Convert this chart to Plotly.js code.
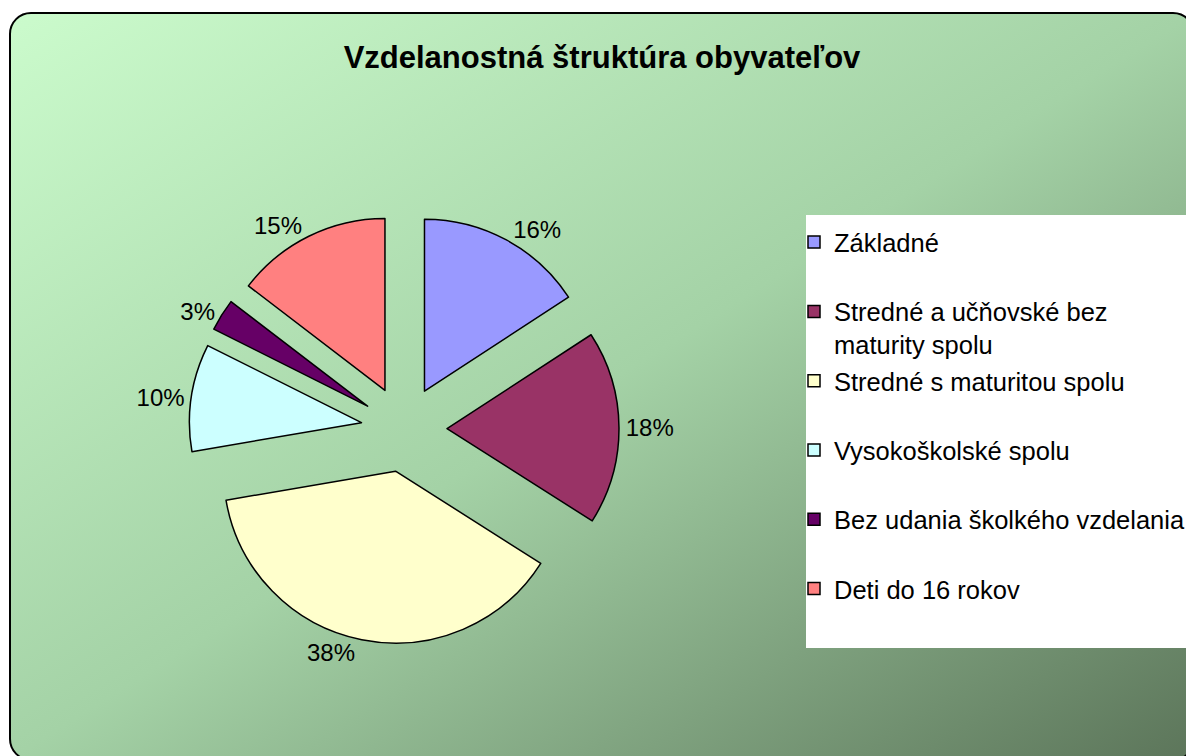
<!DOCTYPE html>
<html>
<head>
<meta charset="utf-8">
<script src="https://cdn.plot.ly/plotly-3.0.1.min.js"></script>
<style>
  html, body { margin: 0; padding: 0; width: 1186px; height: 756px; overflow: hidden; background: #ffffff; }
  #frame {
    position: absolute; left: 9px; top: 12px; width: 1186px; height: 749px;
    border: 2px solid #000; border-radius: 22px; box-sizing: border-box;
    background: linear-gradient(to bottom right, #CBFBCC 0%, #A4D2A6 50%, #5C755A 100%);
  }
  #chart { position: absolute; left: 0; top: 0; width: 1186px; height: 756px; }
</style>
</head>
<body>
<div id="frame"></div>
<div id="chart"></div>
<script>
const titleText = "Vzdelanostná štruktúra obyvateľov";
const categories = [
  "Základné",
  "Stredné a učňovské bez<br>maturity spolu",
  "Stredné s maturitou spolu",
  "Vysokoškolské spolu",
  "Bez udania školkého vzdelania",
  "Deti do 16 rokov"
];
const shares = [15.8, 18.2, 38.3, 10.1, 3.0, 14.6];
const sliceColors = ["#9999FF", "#993366", "#FFFFCC", "#CCFFFF", "#660066", "#FF8080"];

// each legend entry reserves two lines, as in the reference
const legendLabels = categories.map(c => c.includes("<br>") ? c : c + "<br> ");

const trace = {
  type: "pie",
  labels: legendLabels,
  values: shares,
  sort: false,
  direction: "clockwise",
  rotation: 0,
  pull: 0.25,
  marker: { colors: sliceColors, line: { color: "#000000", width: 1.5 } },
  textposition: "outside",
  texttemplate: "%{percent:.0%}",
  textfont: { family: "Liberation Sans, Arial, sans-serif", size: 24, color: "#000000" },
  hoverinfo: "none",
  automargin: false,
  domain: { x: [189/1186, 619/1186], y: [1 - 644/756, 1 - 214/756] }
};

const layout = {
  width: 1186, height: 756,
  margin: { l: 0, r: 0, t: 0, b: 0, autoexpand: false },
  paper_bgcolor: "rgba(0,0,0,0)",
  plot_bgcolor: "rgba(0,0,0,0)",
  font: { family: "Liberation Sans, Arial, sans-serif", color: "#000000" },
  title: {
    text: "<b>" + titleText + "</b>",
    font: { family: "Liberation Sans, Arial, sans-serif", size: 31, color: "#000000" },
    x: 602/1186, xanchor: "center", xref: "paper",
    y: 1 - 57/756, yanchor: "middle", yref: "paper"
  },
  showlegend: true,
  legend: {
    x: 794/1186, xanchor: "left",
    y: 1 - 219/756, yanchor: "top",
    bgcolor: "rgba(0,0,0,0)",
    borderwidth: 0,
    valign: "top",
    font: { family: "Liberation Sans, Arial, sans-serif", size: 25.5, color: "#000000" },
    traceorder: "normal"
  },
  shapes: [{
    type: "rect", xref: "paper", yref: "paper", layer: "below",
    x0: 806/1186, x1: 1.05, y0: 1 - 648/756, y1: 1 - 215/756,
    fillcolor: "#FFFFFF", line: { width: 0 }
  }]
};

Plotly.newPlot("chart", [trace], layout, { displayModeBar: false, staticPlot: true });
</script>
</body>
</html>
